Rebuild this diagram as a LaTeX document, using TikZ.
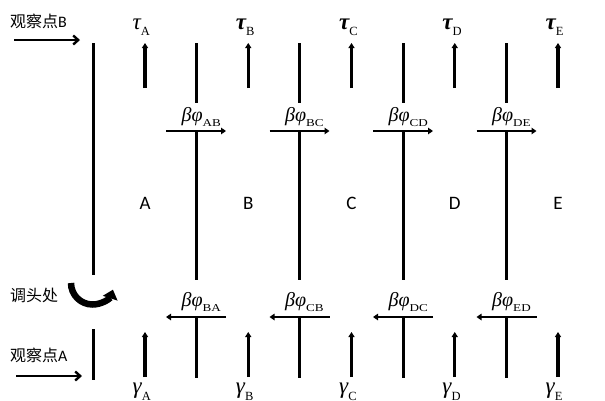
\documentclass[tikz,border=0pt]{standalone}
\usepackage{fontspec}
\setmainfont{Liberation Serif}
\newfontfamily\calfont{Carlito}
\newfontfamily\cjkfont{Noto Sans CJK SC}
\usetikzlibrary{arrows.meta}
\newcommand\grk[3]{{\fontsize{20}{20}\selectfont\itshape #1}\raisebox{#3}{\fontsize{10.5}{10.5}\selectfont\scalebox{1.25}[1]{#2}}}
\newcommand\grkb[4]{{\fontsize{23}{23}\selectfont\itshape #4#1}\raisebox{#3}{\fontsize{12.5}{12.5}\selectfont #2}}
\begin{document}
\begin{tikzpicture}[x=1pt,y=-1pt,
  bar/.style={line width=3pt},
  uparr/.style={line width=3.2pt,-{Triangle[length=5pt,width=6pt]}},
  harr/.style={line width=2.8pt,-{Triangle[length=5pt,width=6.5pt]}},
  obsarr/.style={line width=2.4pt,-{Straight Barb[length=5pt,width=9pt]}},
  uturn/.style={line width=6.5pt,-{Triangle[length=9pt,width=15pt]}},
  lab/.style={inner sep=0pt,anchor=base west},
  cjk/.style={inner sep=0pt,anchor=west,font=\fontsize{16}{16}\selectfont\cjkfont},
  zone/.style={inner sep=0pt,font=\fontsize{19}{19}\selectfont\calfont},
]
\useasboundingbox (0,0) rectangle (605,400);
\clip (0,0) rectangle (605,400);
\fill[white] (0,0) rectangle (605,400);

% left side
\coordinate (L1) at (93,43); \coordinate (L2) at (93,275);
\coordinate (L3) at (93,329); \coordinate (L4) at (93,380);
\draw[bar] (L1) -- (L2);
\draw[bar] (L3) -- (L4);
\coordinate (OB1) at (14,40); \coordinate (OB2) at (80,40);
\coordinate (OA1) at (16,376); \coordinate (OA2) at (82,376);
\draw[obsarr] (OB1) -- (OB2);
\draw[obsarr] (OA1) -- (OA2);
\node[cjk] (obsB) at (10,21) {观察点{\calfont B}};
\node[cjk] (obsA) at (10,355) {观察点{\calfont A}};
\node[cjk] (turn) at (10,295) {调头处};
\coordinate (U0) at (71,283);
\draw[uturn] (U0) arc[start angle=180,end angle=18,radius=21.5];

% columns
\foreach \i/\n/\w in {0/A/\mdseries,1/B/\bfseries,2/C/\bfseries,3/D/\bfseries,4/E/\bfseries}{
  \pgfmathsetmacro\xx{145+103.25*\i}
  \coordinate (tb\n) at (\xx,88); \coordinate (tt\n) at (\xx,43);
  \coordinate (gb\n) at (\xx,377); \coordinate (gt\n) at (\xx,332);
  \draw[uparr] (tb\n) -- (tt\n);
  \draw[uparr] (gb\n) -- (gt\n);
  \node[lab] (tau\n) at (\xx-12.5,29) {\grkb{τ}{\n}{-6pt}{\w}};
  \node[lab] (gam\n) at (\xx-12.5,393) {\grkb{γ}{\n}{-7pt}{}};
  \node[zone] (zone\n) at (\xx,203) {\n};
}

% verticals with phase arrows
\foreach \j/\p/\q in {0/AB/BA,1/BC/CB,2/CD/DC,3/DE/ED}{
  \pgfmathsetmacro\vv{196+103.5*\j}
  \coordinate (va\j) at (\vv,43);  \coordinate (vb\j) at (\vv,103);
  \coordinate (vc\j) at (\vv,131); \coordinate (vd\j) at (\vv,280);
  \coordinate (ve\j) at (\vv,317); \coordinate (vf\j) at (\vv,378);
  \coordinate (hl\j) at (\vv-30,131); \coordinate (hr\j) at (\vv+30,131);
  \coordinate (kl\j) at (\vv-30,317); \coordinate (kr\j) at (\vv+30,317);
  \draw[bar] (va\j) -- (vb\j);
  \draw[bar] (vc\j) -- (vd\j);
  \draw[bar] (ve\j) -- (vf\j);
  \draw[harr] (hl\j) -- (hr\j);
  \draw[harr] (kr\j) -- (kl\j);
  \node[lab] (fu\j) at (\vv-14.5,121) {\grk{βφ}{\p}{-5pt}};
  \node[lab] (fd\j) at (\vv-14.5,306.5) {\grk{βφ}{\q}{-5pt}};
}
\end{tikzpicture}
\end{document}
